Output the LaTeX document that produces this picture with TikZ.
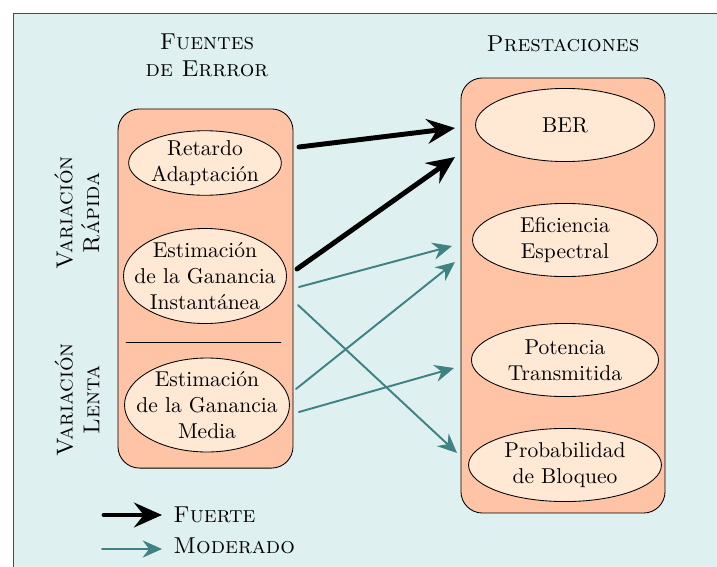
\documentclass[tikz,border=0pt]{standalone}
\usepackage{fontspec}
\usetikzlibrary{shapes.geometric,arrows.meta}
\definecolor{fondo}{HTML}{DFF0F0}
\definecolor{salmon}{HTML}{FFC4A6}
\definecolor{crema}{HTML}{FFE9D4}
\definecolor{verdeazul}{HTML}{3E8282}
\begin{document}
\begin{tikzpicture}[x=.465pt,y=-.465pt,line cap=round,
 caja/.style={draw,rounded corners=10pt,fill=salmon,inner sep=0pt},
 elip/.style 2 args={ellipse,draw,fill=crema,minimum width=#1,minimum height=#2,inner sep=0pt},
 txt/.style={align=center},
 versal/.style={font=\fontsize{10.7}{12.5}\selectfont\scshape},
 fuerte/.style={line width=2.3pt,-{Stealth[length=13pt,width=11.5pt,inset=4.5pt]}},
 moderado/.style={verdeazul,line width=.9pt,-{Stealth[length=9pt,width=8pt,inset=3pt]}}]
\useasboundingbox (0,0) rectangle (717,567);
\draw[fill=fondo,draw=black!70] (13,13) rectangle (740,590);
% titulos
\node[txt,versal] (tfu) at (207,55) {Fuentes\\de Errror};
\node[versal] (tpr) at (563,44) {Prestaciones};
\node[txt,versal,rotate=90] (vr) at (77,213) {Variación\\Rápida};
\node[txt,versal,rotate=90] (vl) at (77,400) {Variación\\Lenta};
% cajas
\node[caja,minimum width=81.4pt,minimum height=167pt] (lbox) at (205.5,288.5) {};
\node[caja,minimum width=94.9pt,minimum height=202.3pt] (rbox) at (563,295.5) {};
\draw (126,342)--(281,342);
% fuentes de error
\node[elip={71pt}{30pt},label={[txt]center:Retardo\\Adaptación}] (ret) at (205,163) {};
\node[elip={75.8pt}{44.2pt},label={[txt]center:Estimación\\de la Ganancia\\Instantánea}] (ins) at (205,276) {};
\node[elip={76.7pt}{43.7pt},label={[txt]center:Estimación\\de la Ganancia\\Media}] (med) at (207,405) {};
% prestaciones
\foreach \nom/\y/\w/\txtl in {ber/125/83.2pt/BER,efi/240/86pt/{Eficiencia\\Espectral},pot/360/87pt/{Potencia\\Transmitida},pro/465/89.7pt/{Probabilidad\\de Bloqueo}}{
 \node[elip={\w}{34pt},label={[txt]center:\txtl}] (\nom) at (565,\y) {};}
% flechas
\coordinate (ret-o) at (299,147); \coordinate (ins-o1) at (297,269); \coordinate (ins-o2) at (299,287); \coordinate (ins-o3) at (298,305);
\coordinate (med-o1) at (296,389); \coordinate (med-o2) at (299,412);
\coordinate (ber-i1) at (455,128); \coordinate (ber-i2) at (455,157); \coordinate (efi-i1) at (452,246); \coordinate (efi-i2) at (455,262);
\coordinate (pot-i) at (454,368); \coordinate (pro-i) at (457,453);
\draw[fuerte] (ret-o)--(ber-i1); \draw[fuerte] (ins-o1)--(ber-i2);
\draw[moderado] (ins-o2)--(efi-i1); \draw[moderado] (ins-o3)--(pro-i);
\draw[moderado] (med-o1)--(efi-i2); \draw[moderado] (med-o2)--(pot-i);
% leyenda
\coordinate (lf-a) at (104,515); \coordinate (lf-b) at (162,515); \coordinate (lm-a) at (102,549); \coordinate (lm-b) at (162,549);
\draw[fuerte] (lf-a)--(lf-b); \draw[moderado] (lm-a)--(lm-b);
\node[right,versal,inner sep=0pt] (lfu) at (173,515) {Fuerte};
\node[right,versal,inner sep=0pt] (lmo) at (173,546) {Moderado};
\end{tikzpicture}
\end{document}
